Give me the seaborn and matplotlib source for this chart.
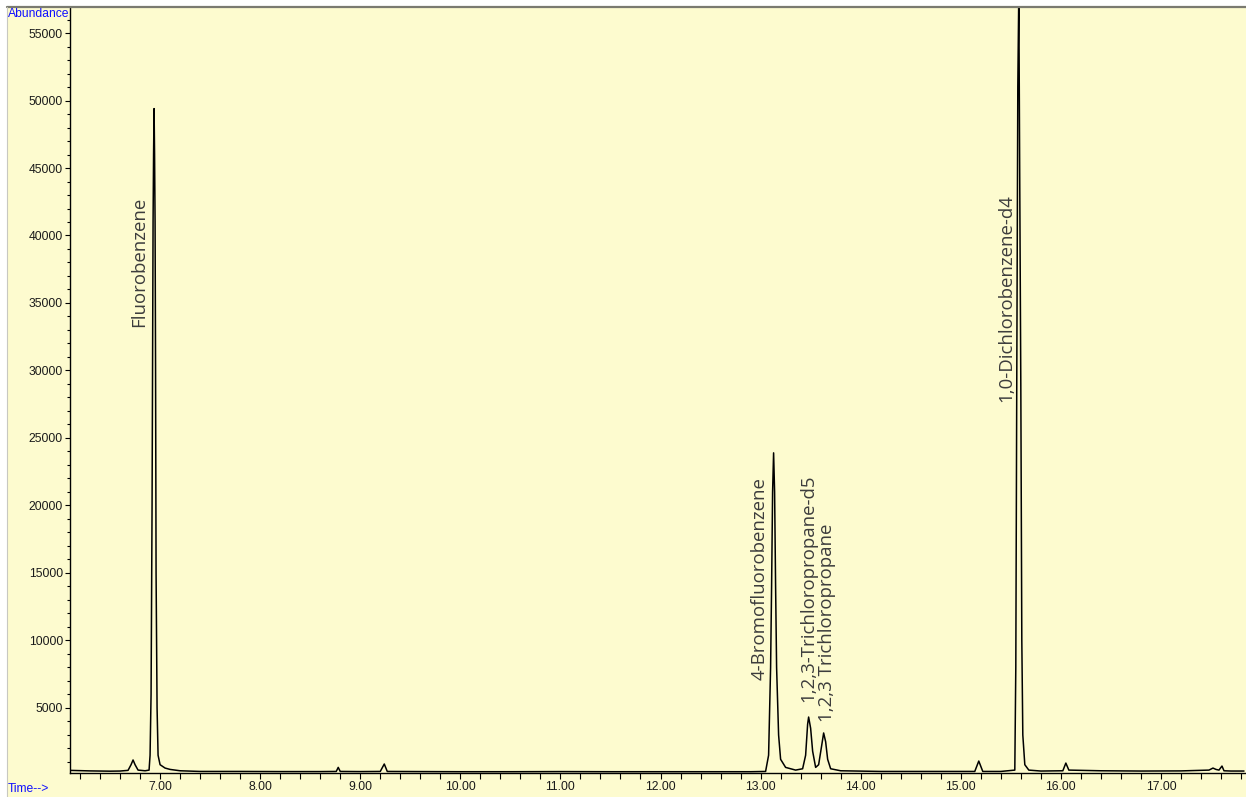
import matplotlib
matplotlib.use("Agg")
import matplotlib.pyplot as plt
import matplotlib.patches as mpatches
from matplotlib.ticker import MultipleLocator, FormatStrFormatter
import seaborn as sns
import pandas as pd

# Retention time (min) and abundance
time_min = [
    6.10, 6.20, 6.30, 6.40, 6.50, 6.60, 6.68, 6.71, 6.73, 6.75, 6.78, 6.85, 6.89,
    6.90, 6.91, 6.92, 6.93, 6.935, 6.94, 6.945, 6.95, 6.955, 6.96, 6.97, 6.98,
    7.00, 7.05, 7.10, 7.20, 7.40, 7.80, 8.20, 8.60, 8.76, 8.78, 8.80, 9.00, 9.20,
    9.24, 9.27, 9.60, 10.00, 10.50, 11.00, 11.50, 12.00, 12.50, 12.90, 13.05,
    13.08, 13.10, 13.11, 13.12, 13.13, 13.14, 13.15, 13.16, 13.18, 13.20, 13.25,
    13.35, 13.42, 13.45, 13.47, 13.48, 13.50, 13.52, 13.55, 13.58, 13.61, 13.63,
    13.65, 13.67, 13.70, 13.80, 14.20, 14.60, 15.00, 15.14, 15.18, 15.22, 15.40,
    15.54, 15.55, 15.56, 15.57, 15.58, 15.59, 15.60, 15.61, 15.62, 15.64, 15.68,
    15.80, 16.02, 16.05, 16.08, 16.40, 16.80, 17.20, 17.48, 17.52, 17.55, 17.58,
    17.61, 17.63, 17.70, 17.83,
]
abundance = [
    380, 360, 340, 330, 320, 330, 380, 800, 1150, 800, 400, 350, 400,
    1500, 6000, 20000, 41000, 46000, 49400, 46000, 41000, 30000, 15000, 5000, 1500,
    800, 550, 450, 350, 300, 300, 290, 290, 300, 600, 300, 290, 300,
    850, 300, 290, 280, 280, 290, 280, 280, 280, 280, 300,
    1500, 8000, 14000, 21000, 23900, 21000, 14000, 8000, 3000, 1200, 600,
    400, 500, 1500, 3800, 4330, 3500, 1800, 600, 800, 2200, 3150,
    2500, 1200, 500, 350, 300, 300, 300, 300, 1070, 300, 300,
    400, 8000, 30000, 51000, 58000, 43000, 29000, 10000, 3000, 800, 400,
    330, 350, 920, 400, 350, 330, 340, 400, 550, 450, 400,
    700, 350, 330, 330,
]

# Compound annotations: label, time, abundance at text start
labels = ["Fluorobenzene", "4-Bromofluorobenzene", "1,2,3-Trichloropropane-d5",
          "1,2,3 Trichloropropane", "1,0-Dichlorobenzene-d4"]
label_time = [6.79, 12.99, 13.48, 13.66, 15.45]
label_abund = [33200, 7100, 5450, 3950, 27650]

y_ticks = [5000, 10000, 15000, 20000, 25000, 30000, 35000, 40000, 45000, 50000, 55000]
x_ticks = [7, 8, 9, 10, 11, 12, 13, 14, 15, 16, 17]

bg = "#FDFBCF"
sns.set_theme(style="white")
plt.rcParams["font.family"] = ["Liberation Sans", "DejaVu Sans"]

W, H = 1246, 797
fig = plt.figure(figsize=(W / 100, H / 100), dpi=100)
fig.patch.set_facecolor("white")
fig.patches.append(mpatches.Rectangle((7 / W, 0), (W - 7) / W, (H - 7) / H,
                                      transform=fig.transFigure, facecolor=bg,
                                      edgecolor="none", zorder=-10))
fig.lines.append(plt.Line2D([7 / W, 1], [1 - 6.5 / H, 1 - 6.5 / H],
                            transform=fig.transFigure, color="#7a7a70", lw=1.6))
fig.lines.append(plt.Line2D([7 / W, 7 / W], [0, 1 - 6.5 / H],
                            transform=fig.transFigure, color="#c8c8c0", lw=0.8))

ax = fig.add_axes([70 / W, (H - 773) / H, (W - 70) / W, (773 - 7) / H])
ax.set_facecolor(bg)

df = pd.DataFrame({"time": time_min, "abundance": abundance})
sns.lineplot(data=df, x="time", y="abundance", ax=ax, color="black", lw=1.1,
             estimator=None, sort=False)

for lab, t, a in zip(labels, label_time, label_abund):
    ax.text(t, a, lab, rotation=90, ha="center", va="bottom", color="#3c3c3c",
            fontsize=13.4, family=["Open Sans", "DejaVu Sans"])

ax.set_xlim(6.10, 17.85)
ax.set_ylim(185, 56926)
ax.set_xticks(x_ticks)
ax.set_yticks(y_ticks)
ax.xaxis.set_major_formatter(FormatStrFormatter("%.2f"))
ax.xaxis.set_minor_locator(MultipleLocator(0.2))
ax.yaxis.set_minor_locator(MultipleLocator(1000))
ax.tick_params(axis="both", which="both", direction="out", colors="black",
               labelcolor="#1a1a1a", labelsize=8.7, width=0.8)
ax.tick_params(axis="x", which="both", length=4, pad=2, bottom=True)
ax.tick_params(axis="y", which="major", length=3.5, pad=1.5, left=True)
ax.tick_params(axis="y", which="minor", length=2.2, left=True)
ax.set_xlabel("")
ax.set_ylabel("")
for s in ["top", "right"]:
    ax.spines[s].set_visible(False)
for s in ["left", "bottom"]:
    ax.spines[s].set_color("black")
    ax.spines[s].set_linewidth(1.0)

fig.text(8 / W, 1 - 14 / H, "Abundance", color="#1010ff", fontsize=8.7,
         ha="left", va="center")
fig.text(8 / W, 1 - 789 / H, "Time-->", color="#1010ff", fontsize=8.7,
         ha="left", va="center")

fig.savefig("out.png", dpi=100, facecolor=fig.get_facecolor())
